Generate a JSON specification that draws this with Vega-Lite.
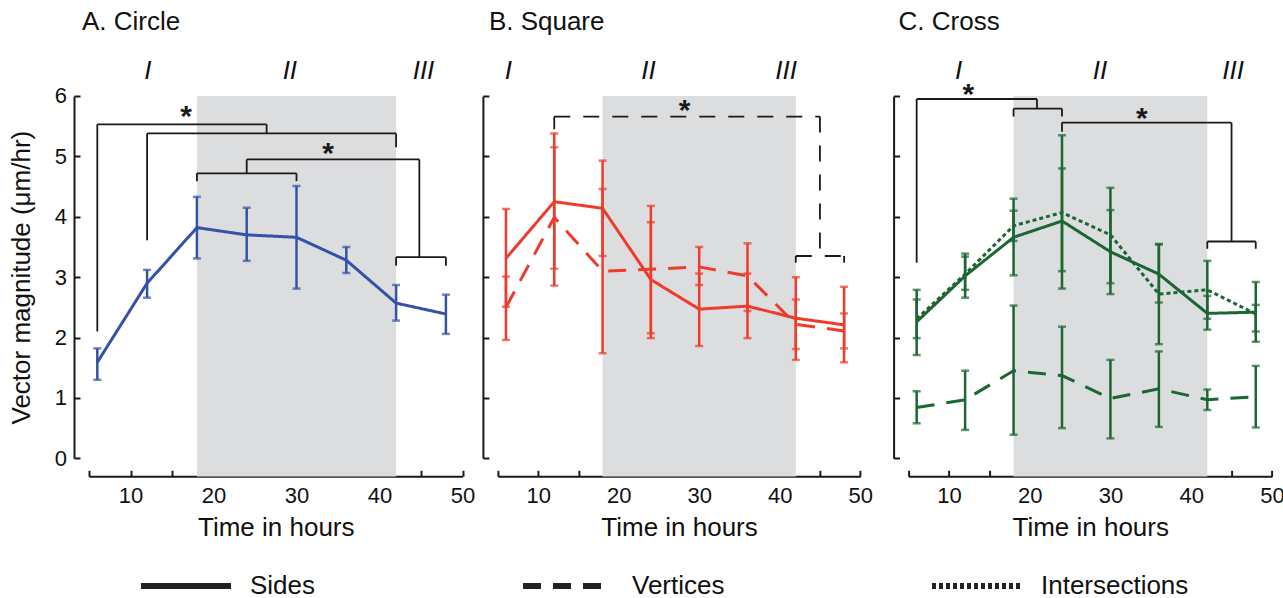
{
  "$schema": "https://vega.github.io/schema/vega-lite/v6.json",
  "background": "white",
  "padding": {"left": 8, "top": 8, "right": 0, "bottom": 0},
  "datasets": {
    "shade": [{"start": 18, "end": 42, "top": 6, "bottom": -0.3}],
    "series": [
      {"panel": "A", "type": "Sides", "t": 6, "mean": 1.59, "lo": 1.30, "hi": 1.82},
      {"panel": "A", "type": "Sides", "t": 12, "mean": 2.90, "lo": 2.66, "hi": 3.12},
      {"panel": "A", "type": "Sides", "t": 18, "mean": 3.82, "lo": 3.31, "hi": 4.33},
      {"panel": "A", "type": "Sides", "t": 24, "mean": 3.70, "lo": 3.27, "hi": 4.15},
      {"panel": "A", "type": "Sides", "t": 30, "mean": 3.66, "lo": 2.81, "hi": 4.51},
      {"panel": "A", "type": "Sides", "t": 36, "mean": 3.28, "lo": 3.07, "hi": 3.50},
      {"panel": "A", "type": "Sides", "t": 42, "mean": 2.57, "lo": 2.28, "hi": 2.87},
      {"panel": "A", "type": "Sides", "t": 48, "mean": 2.39, "lo": 2.06, "hi": 2.71},
      {"panel": "B", "type": "Sides", "t": 6, "mean": 3.31, "lo": 2.51, "hi": 4.13},
      {"panel": "B", "type": "Sides", "t": 12, "mean": 4.25, "lo": 3.14, "hi": 5.38},
      {"panel": "B", "type": "Sides", "t": 18, "mean": 4.14, "lo": 3.35, "hi": 4.93},
      {"panel": "B", "type": "Sides", "t": 24, "mean": 2.96, "lo": 1.99, "hi": 3.91},
      {"panel": "B", "type": "Sides", "t": 30, "mean": 2.47, "lo": 1.86, "hi": 3.06},
      {"panel": "B", "type": "Sides", "t": 36, "mean": 2.52, "lo": 1.99, "hi": 3.06},
      {"panel": "B", "type": "Sides", "t": 42, "mean": 2.32, "lo": 1.63, "hi": 3.00},
      {"panel": "B", "type": "Sides", "t": 48, "mean": 2.21, "lo": 1.59, "hi": 2.84},
      {"panel": "B", "type": "Vertices", "t": 6, "mean": 2.50, "lo": 1.96, "hi": 3.01},
      {"panel": "B", "type": "Vertices", "t": 12, "mean": 3.99, "lo": 2.86, "hi": 5.15},
      {"panel": "B", "type": "Vertices", "t": 18, "mean": 3.10, "lo": 1.74, "hi": 4.46},
      {"panel": "B", "type": "Vertices", "t": 24, "mean": 3.13, "lo": 2.07, "hi": 4.18},
      {"panel": "B", "type": "Vertices", "t": 30, "mean": 3.17, "lo": 2.87, "hi": 3.50},
      {"panel": "B", "type": "Vertices", "t": 36, "mean": 3.02, "lo": 2.44, "hi": 3.56},
      {"panel": "B", "type": "Vertices", "t": 42, "mean": 2.22, "lo": 1.81, "hi": 2.63},
      {"panel": "B", "type": "Vertices", "t": 48, "mean": 2.11, "lo": 1.82, "hi": 2.40},
      {"panel": "C", "type": "Sides", "t": 6, "mean": 2.26, "lo": 1.71, "hi": 2.79},
      {"panel": "C", "type": "Sides", "t": 12, "mean": 3.02, "lo": 2.66, "hi": 3.39},
      {"panel": "C", "type": "Sides", "t": 18, "mean": 3.66, "lo": 3.03, "hi": 4.30},
      {"panel": "C", "type": "Sides", "t": 24, "mean": 3.93, "lo": 3.10, "hi": 4.80},
      {"panel": "C", "type": "Sides", "t": 30, "mean": 3.42, "lo": 2.72, "hi": 4.11},
      {"panel": "C", "type": "Sides", "t": 36, "mean": 3.05, "lo": 2.58, "hi": 3.55},
      {"panel": "C", "type": "Sides", "t": 42, "mean": 2.40, "lo": 2.13, "hi": 2.69},
      {"panel": "C", "type": "Sides", "t": 48, "mean": 2.42, "lo": 1.93, "hi": 2.92},
      {"panel": "C", "type": "Intersections", "t": 6, "mean": 2.31, "lo": 1.99, "hi": 2.63},
      {"panel": "C", "type": "Intersections", "t": 12, "mean": 3.05, "lo": 2.79, "hi": 3.34},
      {"panel": "C", "type": "Intersections", "t": 18, "mean": 3.85, "lo": 3.60, "hi": 4.10},
      {"panel": "C", "type": "Intersections", "t": 24, "mean": 4.07, "lo": 2.81, "hi": 5.35},
      {"panel": "C", "type": "Intersections", "t": 30, "mean": 3.70, "lo": 2.90, "hi": 4.48},
      {"panel": "C", "type": "Intersections", "t": 36, "mean": 2.72, "lo": 1.89, "hi": 3.54},
      {"panel": "C", "type": "Intersections", "t": 42, "mean": 2.79, "lo": 2.31, "hi": 3.27},
      {"panel": "C", "type": "Intersections", "t": 48, "mean": 2.39, "lo": 2.10, "hi": 2.54},
      {"panel": "C", "type": "Vertices", "t": 6, "mean": 0.84, "lo": 0.58, "hi": 1.11},
      {"panel": "C", "type": "Vertices", "t": 12, "mean": 0.97, "lo": 0.47, "hi": 1.45},
      {"panel": "C", "type": "Vertices", "t": 18, "mean": 1.45, "lo": 0.39, "hi": 2.53},
      {"panel": "C", "type": "Vertices", "t": 24, "mean": 1.37, "lo": 0.50, "hi": 2.18},
      {"panel": "C", "type": "Vertices", "t": 30, "mean": 0.99, "lo": 0.33, "hi": 1.63},
      {"panel": "C", "type": "Vertices", "t": 36, "mean": 1.15, "lo": 0.52, "hi": 1.77},
      {"panel": "C", "type": "Vertices", "t": 42, "mean": 0.97, "lo": 0.80, "hi": 1.14},
      {"panel": "C", "type": "Vertices", "t": 48, "mean": 1.02, "lo": 0.51, "hi": 1.53}
    ],
    "brackets": [
      {"panel": "A", "x": 6, "y": 2.10, "x2": 6, "y2": 5.53},
      {"panel": "A", "x": 6, "y": 5.53, "x2": 26.4, "y2": 5.53},
      {"panel": "A", "x": 26.4, "y": 5.53, "x2": 26.4, "y2": 5.38},
      {"panel": "A", "x": 12, "y": 3.61, "x2": 12, "y2": 5.38},
      {"panel": "A", "x": 12, "y": 5.38, "x2": 42, "y2": 5.38},
      {"panel": "A", "x": 42, "y": 5.38, "x2": 42, "y2": 5.15},
      {"panel": "A", "x": 18, "y": 4.59, "x2": 18, "y2": 4.72},
      {"panel": "A", "x": 18, "y": 4.72, "x2": 30, "y2": 4.72},
      {"panel": "A", "x": 30, "y": 4.72, "x2": 30, "y2": 4.59},
      {"panel": "A", "x": 24, "y": 4.72, "x2": 24, "y2": 4.95},
      {"panel": "A", "x": 24, "y": 4.95, "x2": 44.8, "y2": 4.95},
      {"panel": "A", "x": 44.8, "y": 4.95, "x2": 44.8, "y2": 3.33},
      {"panel": "A", "x": 42, "y": 3.19, "x2": 42, "y2": 3.33},
      {"panel": "A", "x": 42, "y": 3.33, "x2": 48, "y2": 3.33},
      {"panel": "A", "x": 48, "y": 3.33, "x2": 48, "y2": 3.19},
      {"panel": "B", "x": 12, "y": 5.45, "x2": 12, "y2": 5.66},
      {"panel": "B", "x": 12, "y": 5.66, "x2": 45, "y2": 5.66},
      {"panel": "B", "x": 45, "y": 5.66, "x2": 45, "y2": 3.35},
      {"panel": "B", "x": 42, "y": 3.24, "x2": 42, "y2": 3.35},
      {"panel": "B", "x": 42, "y": 3.35, "x2": 48, "y2": 3.35},
      {"panel": "B", "x": 48, "y": 3.35, "x2": 48, "y2": 3.24},
      {"panel": "C", "x": 6, "y": 3.24, "x2": 6, "y2": 5.95},
      {"panel": "C", "x": 6, "y": 5.95, "x2": 20.9, "y2": 5.95},
      {"panel": "C", "x": 20.9, "y": 5.95, "x2": 20.9, "y2": 5.79},
      {"panel": "C", "x": 18, "y": 5.66, "x2": 18, "y2": 5.79},
      {"panel": "C", "x": 18, "y": 5.79, "x2": 24, "y2": 5.79},
      {"panel": "C", "x": 24, "y": 5.79, "x2": 24, "y2": 5.66},
      {"panel": "C", "x": 24, "y": 5.41, "x2": 24, "y2": 5.56},
      {"panel": "C", "x": 24, "y": 5.56, "x2": 45, "y2": 5.56},
      {"panel": "C", "x": 45, "y": 5.56, "x2": 45, "y2": 3.59},
      {"panel": "C", "x": 42, "y": 3.47, "x2": 42, "y2": 3.59},
      {"panel": "C", "x": 42, "y": 3.59, "x2": 48, "y2": 3.59},
      {"panel": "C", "x": 48, "y": 3.59, "x2": 48, "y2": 3.47}
    ],
    "stars": [
      {"panel": "A", "t": 16.7, "y": 5.74},
      {"panel": "A", "t": 33.8, "y": 5.12},
      {"panel": "B", "t": 28.2, "y": 5.83},
      {"panel": "C", "t": 12.4, "y": 6.1},
      {"panel": "C", "t": 33.9, "y": 5.71}
    ],
    "numerals": [
      {"panel": "A", "label": "I", "t": 12.1, "y": 6.42},
      {"panel": "A", "label": "II", "t": 29.2, "y": 6.42},
      {"panel": "A", "label": "III", "t": 45.3, "y": 6.42},
      {"panel": "B", "label": "I", "t": 6.3, "y": 6.42},
      {"panel": "B", "label": "II", "t": 23.7, "y": 6.42},
      {"panel": "B", "label": "III", "t": 40.8, "y": 6.42},
      {"panel": "C", "label": "I", "t": 11.2, "y": 6.42},
      {"panel": "C", "label": "II", "t": 28.7, "y": 6.42},
      {"panel": "C", "label": "III", "t": 45.2, "y": 6.42}
    ]
  },
  "config": {
    "font": "Liberation Sans",
    "view": {"stroke": null},
    "axis": {
      "domainColor": "#1a1a1a", "tickColor": "#1a1a1a", "domainWidth": 2, "tickWidth": 2,
      "labelFont": "Liberation Sans", "labelFontSize": 22, "labelColor": "#111",
      "titleFont": "Liberation Sans", "titleFontSize": 26, "titleFontWeight": "normal", "titleColor": "#111",
      "grid": false, "zindex": 1
    },
    "title": {"font": "Liberation Sans", "fontSize": 26, "fontWeight": "normal", "color": "#111", "anchor": "start", "frame": "group", "offset": 23},
    "legend": {
      "title": null, "orient": "bottom", "direction": "horizontal",
      "symbolType": "stroke", "symbolSize": 8100, "symbolStrokeWidth": 6, "symbolStrokeColor": "#222",
      "labelFont": "Liberation Sans", "labelFontSize": 26, "labelColor": "#111", "labelOffset": 16,
      "columnPadding": 195, "padding": 49, "offset": -52
    }
  },
  "spacing": 34.9,
  "bounds": "flush",
  "hconcat": [
    {
      "width": 373.5, "height": 362.3,
      "title": {"text": "A. Circle", "dx": -7},
      "layer": [
        {"data": {"name": "shade"}, "mark": {"type": "rect", "color": "#DCDDDF"},
         "encoding": {
           "x": {"field": "start", "type": "quantitative", "scale": {"domain": [5, 50], "nice": false, "zero": false},
                 "axis": {"orient": "bottom", "offset": 18, "tickSize": -6, "labelPadding": 15, "values": [5, 10, 15, 20, 25, 30, 35, 40, 45, 50], "labelExpr": "datum.value % 10 === 0 ? datum.label : ''", "labelFlush": false, "labelOverlap": false, "title": "Time in hours", "titlePadding": 8}},
           "x2": {"field": "end"},
           "y": {"field": "top", "type": "quantitative", "scale": {"domain": [0, 6], "nice": false, "zero": false},
                 "axis": {"orient": "left", "offset": 15, "tickSize": -6, "labelPadding": 13.6, "values": [0, 1, 2, 3, 4, 5, 6], "format": "d", "labelFlush": false, "labelOverlap": false, "title": "Vector magnitude (μm/hr)", "titlePadding": 20}},
           "y2": {"field": "bottom"}
         }},
        {"data": {"name": "brackets"}, "transform": [{"filter": "datum.panel === 'A'"}],
         "mark": {"type": "rule", "color": "#1a1a1a", "strokeWidth": 1.8},
         "encoding": {
           "x": {"field": "x", "type": "quantitative", "scale": {"domain": [5, 50], "nice": false, "zero": false}},
           "x2": {"field": "x2"},
           "y": {"field": "y", "type": "quantitative", "scale": {"domain": [0, 6], "nice": false, "zero": false}},
           "y2": {"field": "y2"}
         }},
        {"data": {"name": "series"}, "transform": [{"filter": "datum.panel === 'A'"}],
         "mark": {"type": "rule", "color": "#3452A8", "strokeWidth": 2.5},
         "encoding": {
           "x": {"field": "t", "type": "quantitative", "scale": {"domain": [5, 50], "nice": false, "zero": false}},
           "y": {"field": "lo", "type": "quantitative", "scale": {"domain": [0, 6], "nice": false, "zero": false}},
           "y2": {"field": "hi"}
         }},
        {"data": {"name": "series"}, "transform": [{"filter": "datum.panel === 'A'"}],
         "mark": {"type": "tick", "orient": "horizontal", "color": "#3452A8", "size": 8, "thickness": 2.5},
         "encoding": {
           "x": {"field": "t", "type": "quantitative", "scale": {"domain": [5, 50], "nice": false, "zero": false}},
           "y": {"field": "lo", "type": "quantitative", "scale": {"domain": [0, 6], "nice": false, "zero": false}}
         }},
        {"data": {"name": "series"}, "transform": [{"filter": "datum.panel === 'A'"}],
         "mark": {"type": "tick", "orient": "horizontal", "color": "#3452A8", "size": 8, "thickness": 2.5},
         "encoding": {
           "x": {"field": "t", "type": "quantitative", "scale": {"domain": [5, 50], "nice": false, "zero": false}},
           "y": {"field": "hi", "type": "quantitative", "scale": {"domain": [0, 6], "nice": false, "zero": false}}
         }},
        {"data": {"name": "series"}, "transform": [{"filter": "datum.panel === 'A'"}],
         "mark": {"type": "line", "color": "#3452A8", "strokeWidth": 3},
         "encoding": {
           "x": {"field": "t", "type": "quantitative", "scale": {"domain": [5, 50], "nice": false, "zero": false}},
           "y": {"field": "mean", "type": "quantitative", "scale": {"domain": [0, 6], "nice": false, "zero": false}},
           "strokeDash": {"field": "type", "type": "nominal", "scale": {"domain": ["Sides", "Vertices", "Intersections"], "range": [[1, 0], [18, 12], [4, 3]]}}
         }},
        {"data": {"name": "stars"}, "transform": [{"filter": "datum.panel === 'A'"}],
         "mark": {"type": "text", "text": "*", "fontSize": 30, "fontWeight": "bold", "color": "#1a1a1a", "baseline": "middle", "dy": 5},
         "encoding": {
           "x": {"field": "t", "type": "quantitative", "scale": {"domain": [5, 50], "nice": false, "zero": false}},
           "y": {"field": "y", "type": "quantitative", "scale": {"domain": [0, 6], "nice": false, "zero": false}}
         }},
        {"data": {"name": "numerals"}, "transform": [{"filter": "datum.panel === 'A'"}],
         "mark": {"type": "text", "fontSize": 26, "fontStyle": "italic", "color": "#111", "baseline": "middle"},
         "encoding": {
           "x": {"field": "t", "type": "quantitative", "scale": {"domain": [5, 50], "nice": false, "zero": false}},
           "y": {"field": "y", "type": "quantitative", "scale": {"domain": [0, 6], "nice": false, "zero": false}},
           "text": {"field": "label"}
         }}
      ]
    },
    {
      "spacing": 47.7,
      "bounds": "flush",
      "hconcat": [
        {
          "width": 362.3, "height": 362.3,
          "title": {"text": "B. Square", "dx": -9},
          "layer": [
            {"data": {"name": "shade"}, "mark": {"type": "rect", "color": "#DCDDDF"},
             "encoding": {
               "x": {"field": "start", "type": "quantitative", "scale": {"domain": [5, 50], "nice": false, "zero": false},
                     "axis": {"orient": "bottom", "offset": 18, "tickSize": -6, "labelPadding": 15, "values": [5, 10, 15, 20, 25, 30, 35, 40, 45, 50], "labelExpr": "datum.value % 10 === 0 ? datum.label : ''", "labelFlush": false, "labelOverlap": false, "title": "Time in hours", "titlePadding": 8}},
               "x2": {"field": "end"},
               "y": {"field": "top", "type": "quantitative", "scale": {"domain": [0, 6], "nice": false, "zero": false},
                     "axis": {"orient": "left", "offset": 15, "tickSize": -6, "labels": false, "values": [0, 1, 2, 3, 4, 5, 6], "title": ""}},
               "y2": {"field": "bottom"}
             }},
            {"data": {"name": "brackets"}, "transform": [{"filter": "datum.panel === 'B'"}],
             "mark": {"type": "rule", "color": "#1a1a1a", "strokeWidth": 1.8, "strokeDash": [16, 13]},
             "encoding": {
               "x": {"field": "x", "type": "quantitative", "scale": {"domain": [5, 50], "nice": false, "zero": false}},
               "x2": {"field": "x2"},
               "y": {"field": "y", "type": "quantitative", "scale": {"domain": [0, 6], "nice": false, "zero": false}},
               "y2": {"field": "y2"}
             }},
            {"data": {"name": "series"}, "transform": [{"filter": "datum.panel === 'B'"}],
             "mark": {"type": "rule", "color": "#EF3B2C", "strokeWidth": 2.5},
             "encoding": {
               "x": {"field": "t", "type": "quantitative", "scale": {"domain": [5, 50], "nice": false, "zero": false}},
               "y": {"field": "lo", "type": "quantitative", "scale": {"domain": [0, 6], "nice": false, "zero": false}},
               "y2": {"field": "hi"}
             }},
            {"data": {"name": "series"}, "transform": [{"filter": "datum.panel === 'B'"}],
             "mark": {"type": "tick", "orient": "horizontal", "color": "#EF3B2C", "size": 8, "thickness": 2.5},
             "encoding": {
               "x": {"field": "t", "type": "quantitative", "scale": {"domain": [5, 50], "nice": false, "zero": false}},
               "y": {"field": "lo", "type": "quantitative", "scale": {"domain": [0, 6], "nice": false, "zero": false}}
             }},
            {"data": {"name": "series"}, "transform": [{"filter": "datum.panel === 'B'"}],
             "mark": {"type": "tick", "orient": "horizontal", "color": "#EF3B2C", "size": 8, "thickness": 2.5},
             "encoding": {
               "x": {"field": "t", "type": "quantitative", "scale": {"domain": [5, 50], "nice": false, "zero": false}},
               "y": {"field": "hi", "type": "quantitative", "scale": {"domain": [0, 6], "nice": false, "zero": false}}
             }},
            {"data": {"name": "series"}, "transform": [{"filter": "datum.panel === 'B'"}],
             "mark": {"type": "line", "color": "#EF3B2C", "strokeWidth": 3},
             "encoding": {
               "x": {"field": "t", "type": "quantitative", "scale": {"domain": [5, 50], "nice": false, "zero": false}},
               "y": {"field": "mean", "type": "quantitative", "scale": {"domain": [0, 6], "nice": false, "zero": false}},
               "strokeDash": {"field": "type", "type": "nominal", "scale": {"domain": ["Sides", "Vertices", "Intersections"], "range": [[1, 0], [18, 12], [4, 3]]}}
             }},
            {"data": {"name": "stars"}, "transform": [{"filter": "datum.panel === 'B'"}],
             "mark": {"type": "text", "text": "*", "fontSize": 30, "fontWeight": "bold", "color": "#1a1a1a", "baseline": "middle", "dy": 5},
             "encoding": {
               "x": {"field": "t", "type": "quantitative", "scale": {"domain": [5, 50], "nice": false, "zero": false}},
               "y": {"field": "y", "type": "quantitative", "scale": {"domain": [0, 6], "nice": false, "zero": false}}
             }},
            {"data": {"name": "numerals"}, "transform": [{"filter": "datum.panel === 'B'"}],
             "mark": {"type": "text", "fontSize": 26, "fontStyle": "italic", "color": "#111", "baseline": "middle"},
             "encoding": {
               "x": {"field": "t", "type": "quantitative", "scale": {"domain": [5, 50], "nice": false, "zero": false}},
               "y": {"field": "y", "type": "quantitative", "scale": {"domain": [0, 6], "nice": false, "zero": false}},
               "text": {"field": "label"}
             }}
          ]
        },
        {
          "width": 363.3, "height": 362.3,
          "title": {"text": "C. Cross", "dx": -10},
          "layer": [
            {"data": {"name": "shade"}, "mark": {"type": "rect", "color": "#DCDDDF"},
             "encoding": {
               "x": {"field": "start", "type": "quantitative", "scale": {"domain": [5, 50], "nice": false, "zero": false},
                     "axis": {"orient": "bottom", "offset": 18, "tickSize": -6, "labelPadding": 15, "values": [5, 10, 15, 20, 25, 30, 35, 40, 45, 50], "labelExpr": "datum.value % 10 === 0 ? datum.label : ''", "labelFlush": false, "labelOverlap": false, "title": "Time in hours", "titlePadding": 8}},
               "x2": {"field": "end"},
               "y": {"field": "top", "type": "quantitative", "scale": {"domain": [0, 6], "nice": false, "zero": false},
                     "axis": {"orient": "left", "offset": 15, "tickSize": -6, "labels": false, "values": [0, 1, 2, 3, 4, 5, 6], "title": ""}},
               "y2": {"field": "bottom"}
             }},
            {"data": {"name": "brackets"}, "transform": [{"filter": "datum.panel === 'C'"}],
             "mark": {"type": "rule", "color": "#1a1a1a", "strokeWidth": 1.8},
             "encoding": {
               "x": {"field": "x", "type": "quantitative", "scale": {"domain": [5, 50], "nice": false, "zero": false}},
               "x2": {"field": "x2"},
               "y": {"field": "y", "type": "quantitative", "scale": {"domain": [0, 6], "nice": false, "zero": false}},
               "y2": {"field": "y2"}
             }},
            {"data": {"name": "series"}, "transform": [{"filter": "datum.panel === 'C'"}],
             "mark": {"type": "rule", "color": "#1B6632", "strokeWidth": 2.5},
             "encoding": {
               "x": {"field": "t", "type": "quantitative", "scale": {"domain": [5, 50], "nice": false, "zero": false}},
               "y": {"field": "lo", "type": "quantitative", "scale": {"domain": [0, 6], "nice": false, "zero": false}},
               "y2": {"field": "hi"}
             }},
            {"data": {"name": "series"}, "transform": [{"filter": "datum.panel === 'C'"}],
             "mark": {"type": "tick", "orient": "horizontal", "color": "#1B6632", "size": 8, "thickness": 2.5},
             "encoding": {
               "x": {"field": "t", "type": "quantitative", "scale": {"domain": [5, 50], "nice": false, "zero": false}},
               "y": {"field": "lo", "type": "quantitative", "scale": {"domain": [0, 6], "nice": false, "zero": false}}
             }},
            {"data": {"name": "series"}, "transform": [{"filter": "datum.panel === 'C'"}],
             "mark": {"type": "tick", "orient": "horizontal", "color": "#1B6632", "size": 8, "thickness": 2.5},
             "encoding": {
               "x": {"field": "t", "type": "quantitative", "scale": {"domain": [5, 50], "nice": false, "zero": false}},
               "y": {"field": "hi", "type": "quantitative", "scale": {"domain": [0, 6], "nice": false, "zero": false}}
             }},
            {"data": {"name": "series"}, "transform": [{"filter": "datum.panel === 'C'"}],
             "mark": {"type": "line", "color": "#1B6632", "strokeWidth": 3},
             "encoding": {
               "x": {"field": "t", "type": "quantitative", "scale": {"domain": [5, 50], "nice": false, "zero": false}},
               "y": {"field": "mean", "type": "quantitative", "scale": {"domain": [0, 6], "nice": false, "zero": false}},
               "strokeDash": {"field": "type", "type": "nominal", "scale": {"domain": ["Sides", "Vertices", "Intersections"], "range": [[1, 0], [18, 12], [4, 3]]}}
             }},
            {"data": {"name": "stars"}, "transform": [{"filter": "datum.panel === 'C'"}],
             "mark": {"type": "text", "text": "*", "fontSize": 30, "fontWeight": "bold", "color": "#1a1a1a", "baseline": "middle", "dy": 5},
             "encoding": {
               "x": {"field": "t", "type": "quantitative", "scale": {"domain": [5, 50], "nice": false, "zero": false}},
               "y": {"field": "y", "type": "quantitative", "scale": {"domain": [0, 6], "nice": false, "zero": false}}
             }},
            {"data": {"name": "numerals"}, "transform": [{"filter": "datum.panel === 'C'"}],
             "mark": {"type": "text", "fontSize": 26, "fontStyle": "italic", "color": "#111", "baseline": "middle"},
             "encoding": {
               "x": {"field": "t", "type": "quantitative", "scale": {"domain": [5, 50], "nice": false, "zero": false}},
               "y": {"field": "y", "type": "quantitative", "scale": {"domain": [0, 6], "nice": false, "zero": false}},
               "text": {"field": "label"}
             }}
          ]
        }
      ]
    }
  ]
}
